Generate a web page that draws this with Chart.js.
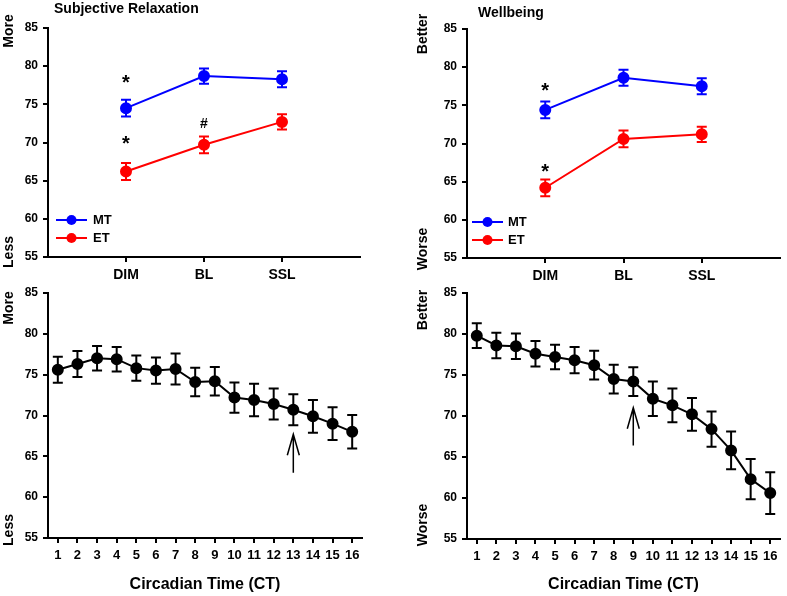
<!DOCTYPE html>
<html>
<head>
<meta charset="utf-8">
<script src="https://cdn.jsdelivr.net/npm/chart.js@4.4.1/dist/chart.umd.min.js"></script>
<style>
  html, body { margin: 0; padding: 0; background: #fff; }
  #wrap { position: relative; width: 787px; height: 596px; }
  canvas { position: absolute; }
</style>
</head>
<body>
<div id="wrap">
  <canvas id="relax-phase" style="left:0;top:0" width="390" height="285"></canvas>
  <canvas id="well-phase" style="left:390px;top:0" width="397" height="285"></canvas>
  <canvas id="relax-ct" style="left:0;top:285px" width="390" height="311"></canvas>
  <canvas id="well-ct" style="left:390px;top:285px" width="397" height="311"></canvas>
</div>
<script>
// Light phases (top panels)
const PHASES = ["DIM", "BL", "SSL"];
const PHASE_X = [1, 2, 3];

const relaxMT = [74.5, 78.7, 78.3];
const relaxMTErr = [1.1, 1.0, 1.05];
const relaxET = [66.2, 69.7, 72.7];
const relaxETErr = [1.1, 1.1, 1.0];

const wellMT = [74.4, 78.6, 77.5];
const wellMTErr = [1.1, 1.05, 1.05];
const wellET = [64.2, 70.6, 71.2];
const wellETErr = [1.1, 1.1, 1.0];

// Circadian time (bottom panels)
const CT = [1, 2, 3, 4, 5, 6, 7, 8, 9, 10, 11, 12, 13, 14, 15, 16];
const relaxCT = [75.6, 76.3, 77.0, 76.9, 75.8, 75.5, 75.7, 74.1, 74.2, 72.2, 71.9, 71.4, 70.7, 69.9, 69.0, 68.0];
const relaxCTErr = [1.6, 1.6, 1.5, 1.5, 1.55, 1.6, 1.9, 1.75, 1.75, 1.85, 2.0, 1.9, 1.9, 2.0, 2.0, 2.05];
const wellCT = [79.8, 78.6, 78.5, 77.6, 77.2, 76.8, 76.2, 74.5, 74.2, 72.1, 71.3, 70.2, 68.4, 65.8, 62.3, 60.6];
const wellCTErr = [1.5, 1.55, 1.55, 1.55, 1.5, 1.6, 1.75, 1.75, 1.75, 2.1, 2.05, 2.0, 2.15, 2.3, 2.45, 2.55];

const FONT = "'Liberation Sans', Arial, Helvetica, sans-serif";
const C = { blue: "#0000FF", red: "#FF0000", black: "#000000" };

Chart.defaults.font.family = FONT;
Chart.defaults.color = "#000";

const pts = (xs, ys) => xs.map((x, i) => ({ x, y: ys[i] }));

// vertical error bars with caps, drawn under the points
const errorBars = {
  id: "errorBars",
  beforeDatasetsDraw(chart) {
    const { ctx } = chart;
    const ys = chart.scales.y;
    chart.data.datasets.forEach((ds, i) => {
      if (!ds.errors) return;
      const meta = chart.getDatasetMeta(i);
      ctx.save();
      ctx.strokeStyle = ds.borderColor;
      ctx.lineWidth = 2;
      meta.data.forEach((el, j) => {
        const v = ds.data[j].y, e = ds.errors[j];
        const top = ys.getPixelForValue(v + e), bot = ys.getPixelForValue(v - e);
        ctx.beginPath();
        ctx.moveTo(el.x, top); ctx.lineTo(el.x, bot);
        ctx.moveTo(el.x - 5, top); ctx.lineTo(el.x + 5, top);
        ctx.moveTo(el.x - 5, bot); ctx.lineTo(el.x + 5, bot);
        ctx.stroke();
      });
      ctx.restore();
    });
  },
};

// titles, side words, legend, significance marks, arrows
const decor = {
  id: "decor",
  afterDraw(chart, args, o) {
    const { ctx } = chart;
    const xs = chart.scales.x, ys = chart.scales.y;
    ctx.save();
    ctx.fillStyle = "#000";
    if (o.title) {
      ctx.font = `bold 14px ${FONT}`;
      ctx.textAlign = "left"; ctx.textBaseline = "middle";
      ctx.fillText(o.title.text, o.title.x, o.title.y);
    }
    (o.side || []).forEach((s) => {
      ctx.save();
      ctx.font = `bold 14px ${FONT}`;
      ctx.translate(s.x, s.y); ctx.rotate(-Math.PI / 2);
      ctx.textAlign = "center"; ctx.textBaseline = "middle";
      ctx.fillText(s.text, 0, 0);
      ctx.restore();
    });
    (o.marks || []).forEach((m) => {
      ctx.font = `bold ${m.text === "#" ? 14 : 20}px ${FONT}`;
      ctx.textAlign = "center"; ctx.textBaseline = "alphabetic";
      const mt = ctx.measureText(m.text);
      const cy = ys.getPixelForValue(m.y) + (mt.actualBoundingBoxAscent - mt.actualBoundingBoxDescent) / 2;
      ctx.fillText(m.text, xs.getPixelForValue(m.x), cy);
    });
    if (o.arrow) {
      const ax = xs.getPixelForValue(o.arrow.x);
      const tip = ys.getPixelForValue(o.arrow.to), tail = ys.getPixelForValue(o.arrow.from);
      ctx.strokeStyle = "#000"; ctx.lineWidth = 1.5;
      ctx.beginPath();
      ctx.moveTo(ax, tail); ctx.lineTo(ax, tip);
      ctx.moveTo(ax - 6, tip + 21); ctx.lineTo(ax, tip); ctx.lineTo(ax + 6, tip + 21);
      ctx.stroke();
    }
    if (o.legend) {
      const L = o.legend;
      chart.data.datasets.forEach((ds, i) => {
        const y = L.y[i];
        ctx.strokeStyle = ds.borderColor; ctx.lineWidth = 2;
        ctx.beginPath(); ctx.moveTo(L.x0, y); ctx.lineTo(L.x1, y); ctx.stroke();
        ctx.fillStyle = ds.backgroundColor;
        ctx.beginPath(); ctx.arc((L.x0 + L.x1) / 2, y, 5, 0, Math.PI * 2); ctx.fill();
        ctx.fillStyle = "#000";
        ctx.font = `bold 13px ${FONT}`;
        ctx.textAlign = "left"; ctx.textBaseline = "middle";
        ctx.fillText(ds.label, L.tx, y);
      });
    }
    ctx.restore();
  },
};

function series(label, color, xs, ys, errs) {
  return {
    label, data: pts(xs, ys), errors: errs,
    borderColor: color, backgroundColor: color,
    pointBackgroundColor: color, pointBorderColor: color,
    borderWidth: 2, pointRadius: 5, pointHoverRadius: 5, tension: 0,
  };
}

function axisStyle() {
  return {
    grid: { display: true, drawOnChartArea: false, drawTicks: true, tickLength: 5, color: "#000", lineWidth: 2 },
    border: { display: true, color: "#000", width: 2 },
  };
}

function xScale(min, max, ticks, labels, size, height, title) {
  return {
    type: "linear", min, max,
    afterBuildTicks: (s) => { s.ticks = ticks.map((v) => ({ value: v })); },
    ticks: {
      autoSkip: false, maxRotation: 0, padding: 5,
      font: { size, weight: "bold" },
      callback: (v, i) => labels[i],
    },
    title: title
      ? { display: true, text: title, font: { size: 16, weight: "bold" }, padding: { top: 0, bottom: 2 } }
      : { display: false },
    ...axisStyle(),
    afterFit: (s) => { s.height = height; s.paddingLeft = 0; s.paddingRight = 0; },
  };
}

function yScale(width) {
  return {
    min: 55, max: 85,
    ticks: { stepSize: 5, padding: 5, font: { size: 12, weight: "bold" } },
    ...axisStyle(),
    afterFit: (s) => { s.width = width; s.paddingTop = 0; s.paddingBottom = 0; },
  };
}

function makeChart(id, datasets, x, y, padding, decorOpts) {
  return new Chart(document.getElementById(id), {
    type: "line",
    data: { datasets },
    options: {
      responsive: false, animation: false,
      layout: { padding },
      scales: { x, y },
      plugins: { legend: { display: false }, tooltip: { enabled: false }, decor: decorOpts },
    },
    plugins: [errorBars, decor],
  });
}

makeChart("relax-phase",
  [series("MT", C.blue, PHASE_X, relaxMT, relaxMTErr), series("ET", C.red, PHASE_X, relaxET, relaxETErr)],
  xScale(0, 4, PHASE_X, PHASES, 14, 28), yScale(48),
  { left: 0, top: 28, right: 30, bottom: 0 },
  {
    title: { text: "Subjective Relaxation", x: 54, y: 9 },
    side: [{ text: "More", x: 9, y: 31 }, { text: "Less", x: 9, y: 252 }],
    legend: { x0: 56, x1: 87, tx: 93, y: [220, 238] },
    marks: [{ x: 1, y: 78.3, text: "*" }, { x: 1, y: 70.3, text: "*" }, { x: 2, y: 72.6, text: "#" }],
  });

makeChart("well-phase",
  [series("MT", C.blue, PHASE_X, wellMT, wellMTErr), series("ET", C.red, PHASE_X, wellET, wellETErr)],
  xScale(0, 4, PHASE_X, PHASES, 14, 27), yScale(77),
  { left: 0, top: 29, right: 7, bottom: 0 },
  {
    title: { text: "Wellbeing", x: 88, y: 13 },
    side: [{ text: "Better", x: 33, y: 34 }, { text: "Worse", x: 33, y: 249 }],
    legend: { x0: 82, x1: 113, tx: 118, y: [222, 240] },
    marks: [{ x: 1, y: 77.4, text: "*" }, { x: 1, y: 66.8, text: "*" }],
  });

makeChart("relax-ct",
  [series("Relaxation", C.black, CT, relaxCT, relaxCTErr)],
  xScale(0.5, 16.5, CT, CT.map(String), 13, 58, "Circadian Time (CT)"), yScale(48),
  { left: 0, top: 8, right: 28, bottom: 0 },
  {
    side: [{ text: "More", x: 9, y: 23 }, { text: "Less", x: 9, y: 245 }],
    arrow: { x: 13, from: 63.0, to: 67.7 },
  });

makeChart("well-ct",
  [series("Wellbeing", C.black, CT, wellCT, wellCTErr)],
  xScale(0.5, 16.5, CT, CT.map(String), 13, 57, "Circadian Time (CT)"), yScale(77),
  { left: 0, top: 8, right: 4, bottom: 0 },
  {
    side: [{ text: "Better", x: 33, y: 25 }, { text: "Worse", x: 33, y: 240 }],
    arrow: { x: 9, from: 66.4, to: 71.0 },
  });
</script>
</body>
</html>
